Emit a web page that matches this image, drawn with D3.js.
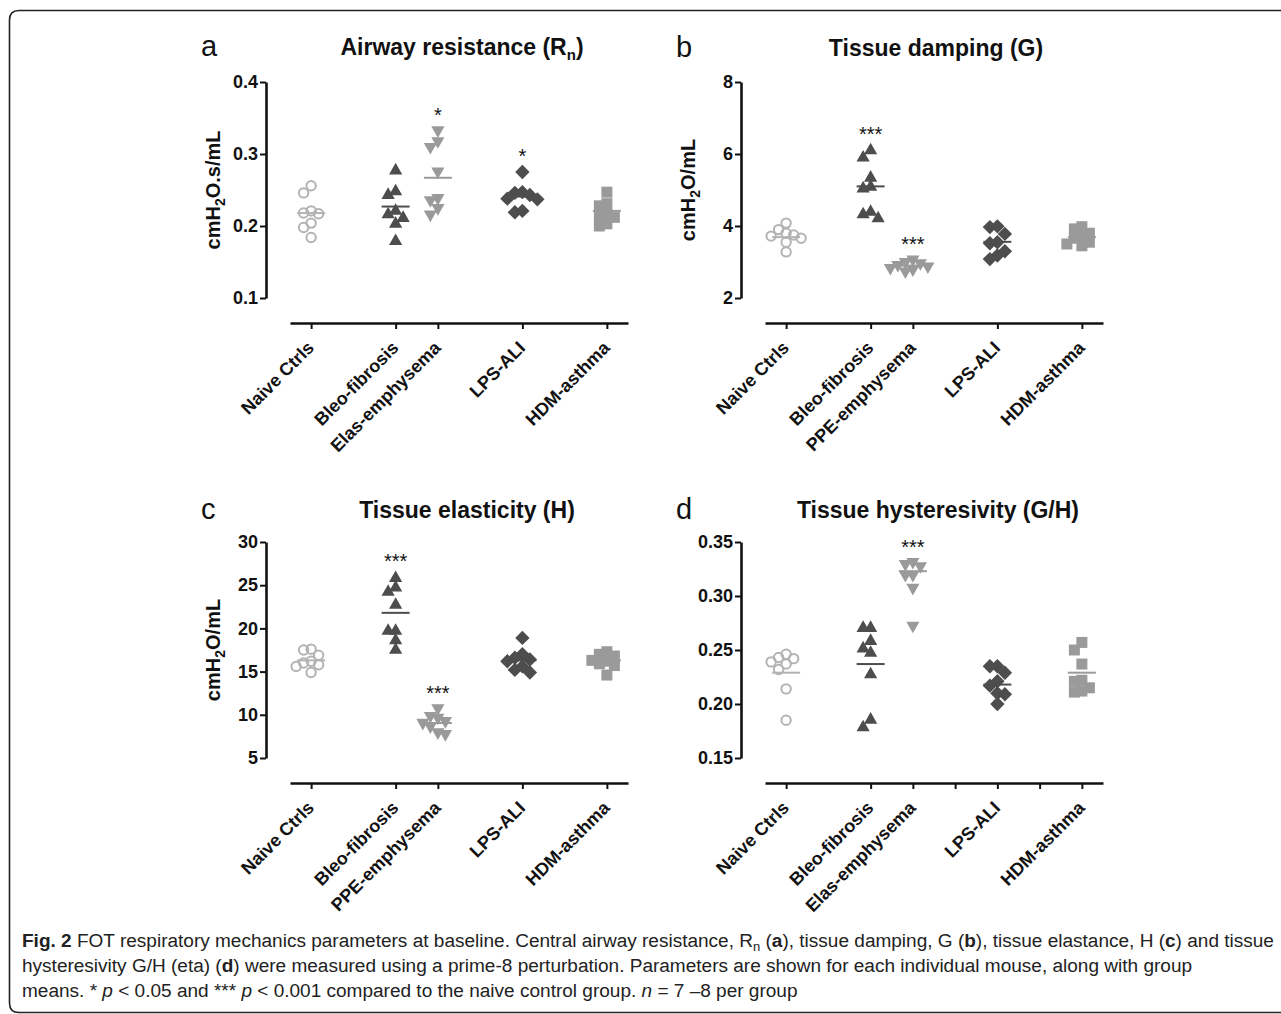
<!DOCTYPE html>
<html>
<head>
<meta charset="utf-8">
<script src="https://cdn.jsdelivr.net/npm/d3@7"></script>
<style>
  body { margin: 0; background: #fff; }
  svg text { font-family: "Liberation Sans", Arial, sans-serif; }
</style>
</head>
<body>
<div id="canvas"></div>
<script>
var width = 1281
var height = 1014

// groups on the x axis (slot = position along the axis)
var groupsElas = ["Naive Ctrls", "Bleo-fibrosis", "Elas-emphysema", "LPS-ALI", "HDM-asthma"]
var groupsPPE = ["Naive Ctrls", "Bleo-fibrosis", "PPE-emphysema", "LPS-ALI", "HDM-asthma"]
var groupSlots = [0, 2, 3, 5, 7]
var extraSlotsD = [4, 6]

// a - airway resistance
var rnTicks = [0.1, 0.2, 0.3, 0.4]
var rnValues = [
    [0.246, 0.256, 0.218, 0.217, 0.221, 0.204, 0.198, 0.184],
    [0.278, 0.244, 0.249, 0.222, 0.217, 0.212, 0.204, 0.180],
    [0.332, 0.317, 0.309, 0.275, 0.238, 0.235, 0.224, 0.215],
    [0.275, 0.247, 0.246, 0.243, 0.237, 0.238, 0.219, 0.221],
    [0.247, 0.231, 0.228, 0.214, 0.212, 0.216, 0.200, 0.203]
]
var rnMeans = [0.218, 0.227, 0.267, 0.241, 0.221]
var rnStars = ["", "", "*", "*", ""]

// b - tissue damping
var gTicks = [2, 4, 6, 8]
var gValues = [
    [4.08, 3.90, 3.80, 3.75, 3.72, 3.66, 3.55, 3.28],
    [5.92, 6.12, 5.36, 5.11, 5.06, 4.41, 4.23, 4.34],
    [3.05, 2.98, 2.95, 2.90, 2.86, 2.82, 2.78, 2.72],
    [3.97, 3.99, 3.78, 3.55, 3.52, 3.30, 3.18, 3.08],
    [3.98, 3.92, 3.80, 3.72, 3.66, 3.55, 3.50, 3.45]
]
var gMeans = [3.69, 5.10, 2.90, 3.56, 3.69]
var gStars = ["", "***", "***", "", ""]

// c - tissue elasticity
var hTicks = [5, 10, 15, 20, 25, 30]
var hValues = [
    [17.5, 17.6, 16.9, 16.2, 16.0, 15.8, 15.6, 14.9],
    [25.9, 24.8, 24.3, 22.8, 19.8, 19.8, 18.7, 17.6],
    [10.7, 9.8, 9.6, 9.2, 9.0, 8.6, 7.9, 7.7],
    [18.9, 17.0, 16.6, 16.4, 16.2, 15.6, 15.2, 14.9],
    [17.3, 17.0, 16.8, 16.3, 16.2, 15.9, 15.7, 14.6]
]
var hMeans = [16.3, 21.8, 9.05, 16.3, 16.3]
var hStars = ["", "***", "***", "", ""]

// d - tissue hysteresivity
var etaTicks = [0.15, 0.20, 0.25, 0.30, 0.35]
var etaValues = [
    [0.246, 0.243, 0.242, 0.239, 0.237, 0.232, 0.214, 0.185],
    [0.271, 0.271, 0.259, 0.252, 0.248, 0.228, 0.186, 0.179],
    [0.331, 0.329, 0.327, 0.319, 0.319, 0.307, 0.272],
    [0.235, 0.235, 0.229, 0.221, 0.217, 0.210, 0.209, 0.200],
    [0.257, 0.250, 0.237, 0.222, 0.221, 0.215, 0.211, 0.212]
]
var etaMeans = [0.229, 0.237, 0.323, 0.218, 0.229]
var etaStars = ["", "", "***", "", ""]

var shapes = ["circle", "triangle", "down", "diamond", "square"]
var colors = ["#b3b3b3", "#4d4d4d", "#9a9a9a", "#4d4d4d", "#9a9a9a"]

var panels = [
    { letter: "a", title: ["Airway resistance (R", "n", ")"], ylab: "O.s/mL", ticks: rnTicks, fmt: ".1f",
      values: rnValues, means: rnMeans, stars: rnStars, names: groupsElas, extra: [], left: 266, top: 82, tx: 462, ty: 55 },
    { letter: "b", title: ["Tissue damping (G)"], ylab: "O/mL", ticks: gTicks, fmt: "d",
      values: gValues, means: gMeans, stars: gStars, names: groupsPPE, extra: [], left: 741, top: 82, tx: 936, ty: 56 },
    { letter: "c", title: ["Tissue elasticity (H)"], ylab: "O/mL", ticks: hTicks, fmt: "d",
      values: hValues, means: hMeans, stars: hStars, names: groupsPPE, extra: [], left: 266, top: 542, tx: 467, ty: 518 },
    { letter: "d", title: ["Tissue hysteresivity (G/H)"], ylab: null, ticks: etaTicks, fmt: ".2f",
      values: etaValues, means: etaMeans, stars: etaStars, names: groupsElas, extra: extraSlotsD, left: 741, top: 542, tx: 938, ty: 518 }
]

var plotH = 216
var axisGap = 25

var svg = d3.select("#canvas")
    .append("svg")
    .attr("width", width)
    .attr("height", height)

// rounded frame round the figure
svg.append("path")
    .attr("d", "M1290,10.5 H19 Q9.5,10.5 9.5,20 V1003 Q9.5,1012.5 19,1012.5 H1290")
    .attr("fill", "none")
    .attr("stroke", "#222")
    .attr("stroke-width", 1.6)

function markerPath(type) {
    if (type == "triangle") return "M0,-7 L6.6,4.6 L-6.6,4.6 Z"
    if (type == "down") return "M0,7 L6.6,-4.6 L-6.6,-4.6 Z"
    if (type == "diamond") return "M0,-7.2 L7.2,0 L0,7.2 L-7.2,0 Z"
    if (type == "square") return "M-5.5,-5.5 H5.5 V5.5 H-5.5 Z"
    return null
}

// simple swarm so overlapping points spread sideways
function swarm(vals, y, step, gap) {
    var out = []
    var placed = []
    var order = d3.range(vals.length).sort(function (a, b) { return vals[b] - vals[a] })
    var cands = [0, -1, 1, -2, 2, -3, 3]
    order.forEach(function (i) {
        var py = y(vals[i])
        var dx = 0
        for (var c = 0; c < cands.length; c++) {
            dx = cands[c] * step
            var hit = placed.some(function (p) {
                return Math.abs(p.dx - dx) < step * 0.9 && Math.abs(p.y - py) < gap
            })
            if (!hit) break
        }
        placed.push({ dx: dx, y: py })
        out[i] = dx
    })
    return out
}

panels.forEach(function (p) {
    var g = svg.append("g")
    var yScale = d3.scaleLinear()
        .domain([p.ticks[0], p.ticks[p.ticks.length - 1]])
        .range([p.top + plotH, p.top])
    var xScale = d3.scaleLinear()
        .domain([-0.5, 7.5])
        .range([p.left + 24, p.left + 362])
    var axisY = p.top + plotH + axisGap

    // panel letter + title
    g.append("text")
        .attr("x", p.left - 65)
        .attr("y", p.ty + 1)
        .style("font-size", "29px")
        .style("fill", "#111")
        .text(p.letter)

    var title = g.append("text")
        .attr("x", p.tx)
        .attr("y", p.ty)
        .attr("text-anchor", "middle")
        .style("font-size", "23px")
        .style("font-weight", "bold")
        .style("fill", "#111")
    title.append("tspan").text(p.title[0])
    if (p.title.length > 1) {
        title.append("tspan").attr("dy", 5).style("font-size", "15px").text(p.title[1])
        title.append("tspan").attr("dy", -5).text(p.title[2])
    }

    // y axis
    var yAxis = g.append("g")
        .attr("transform", `translate(${p.left},0)`)
        .call(d3.axisLeft(yScale)
            .tickValues(p.ticks)
            .tickFormat(d3.format(p.fmt))
            .tickSize(6)
            .tickSizeOuter(0)
            .tickPadding(2))
    yAxis.selectAll("text")
        .style("font-size", "18px")
        .style("font-weight", "bold")
        .style("fill", "#111")
        .style("font-family", "Liberation Sans, Arial, sans-serif")

    // x axis
    var xAxis = g.append("g")
        .attr("transform", `translate(0,${axisY})`)
        .call(d3.axisBottom(xScale)
            .tickValues(groupSlots.concat(p.extra))
            .tickFormat("")
            .tickSize(6)
            .tickSizeOuter(0))

    g.selectAll(".domain").attr("stroke", "#111").attr("stroke-width", 2.6)
    g.selectAll(".tick line").attr("stroke", "#111").attr("stroke-width", 2)

    g.selectAll(".xlab")
        .data(p.names)
        .enter()
        .append("text")
        .attr("class", "xlab")
        .attr("text-anchor", "end")
        .attr("transform", function (d, i) {
            return `translate(${xScale(groupSlots[i]) + 4},${axisY + 26}) rotate(-45)`
        })
        .style("font-size", "18px")
        .style("font-weight", "bold")
        .style("fill", "#111")
        .text(function (d) { return d })

    // y label
    if (p.ylab) {
        var yl = g.append("text")
            .attr("transform", `translate(${p.left - 46},${p.top + 108}) rotate(-90)`)
            .attr("text-anchor", "middle")
            .style("font-size", "20px")
            .style("font-weight", "bold")
            .style("fill", "#111")
        yl.append("tspan").text("cmH")
        yl.append("tspan").attr("dy", 5).style("font-size", "14px").text("2")
        yl.append("tspan").attr("dy", -5).text(p.ylab)
    }

    // points, means, stars
    p.values.forEach(function (vals, gi) {
        var cx = xScale(groupSlots[gi])
        var offs = swarm(vals, yScale, 7.5, 9)
        var col = colors[gi]
        var shape = shapes[gi]

        g.append("line")
            .attr("x1", cx - 14)
            .attr("x2", cx + 14)
            .attr("y1", yScale(p.means[gi]))
            .attr("y2", yScale(p.means[gi]))
            .attr("stroke", col)
            .attr("stroke-width", 2)

        var pts = g.selectAll(".pt" + gi)
            .data(vals)
            .enter()
        if (shape == "circle") {
            pts.append("circle")
                .attr("cx", function (d, i) { return cx + offs[i] })
                .attr("cy", function (d) { return yScale(d) })
                .attr("r", 4.7)
                .attr("fill", "none")
                .attr("stroke", col)
                .attr("stroke-width", 2)
        } else {
            pts.append("path")
                .attr("d", markerPath(shape))
                .attr("transform", function (d, i) {
                    return `translate(${cx + offs[i]},${yScale(d)})`
                })
                .attr("fill", col)
        }

        if (p.stars[gi]) {
            g.append("text")
                .attr("x", cx)
                .attr("y", yScale(d3.max(vals)) - 9)
                .attr("text-anchor", "middle")
                .style("font-size", "20px")
                .style("fill", "#111")
                .text(p.stars[gi])
        }
    })
})

// caption
var captionLines = [
    [["Fig. 2", "b"], [" FOT respiratory mechanics parameters at baseline. Central airway resistance, R", ""], ["n", "sub"],
     [" (", ""], ["a", "b"], ["), tissue damping, G (", ""], ["b", "b"], ["), tissue elastance, H (", ""], ["c", "b"], [") and tissue", ""]],
    [["hysteresivity G/H (eta) (", ""], ["d", "b"], [") were measured using a prime-8 perturbation. Parameters are shown for each individual mouse, along with group", ""]],
    [["means. * ", ""], ["p", "i"], [" < 0.05 and *** ", ""], ["p", "i"], [" < 0.001 compared to the naive control group. ", ""], ["n", "i"], [" = 7 \u20138 per group", ""]]
]

var captionTexts = captionLines.map(function (parts, li) {
    var t = svg.append("text")
        .attr("x", 0)
        .attr("y", 0)
        .style("font-family", "Liberation Sans, Arial, sans-serif")
        .style("font-size", "19px")
        .style("fill", "#222")
    var sub = false
    parts.forEach(function (pt) {
        var s = t.append("tspan").text(pt[0])
        if (pt[1] == "b") s.style("font-weight", "bold")
        if (pt[1] == "i") s.style("font-style", "italic")
        if (pt[1] == "sub") { s.attr("dy", 4).style("font-size", "13px"); sub = true }
        else if (sub) { s.attr("dy", -4); sub = false }
    })
    return t
})
// squeeze all lines by the same factor so line 1 fills the width
var k = (1275 - 22) / captionTexts[0].node().getComputedTextLength()
captionTexts.forEach(function (t, li) {
    t.attr("transform", `translate(22,${947 + li * 25}) scale(${k},1)`)
})
</script>
</body>
</html>
